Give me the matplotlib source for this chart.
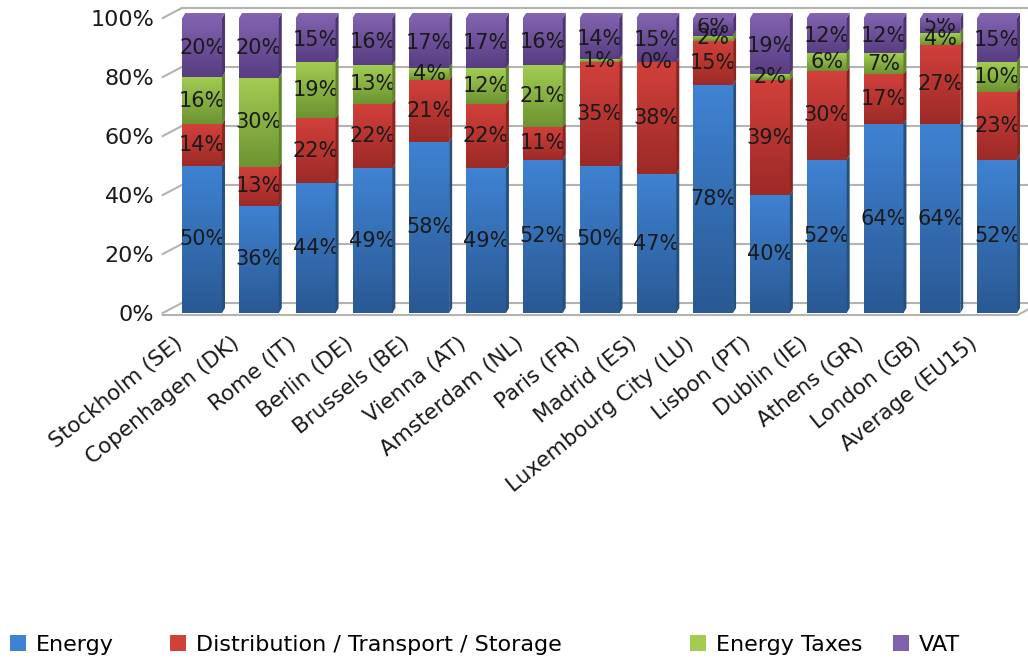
import matplotlib
matplotlib.use("Agg")
import matplotlib.pyplot as plt
from matplotlib.colors import LinearSegmentedColormap
from matplotlib.lines import Line2D
from matplotlib.patches import Polygon, Rectangle
from matplotlib.transforms import IdentityTransform, ScaledTranslation
import numpy as np

plt.rcParams.update({"font.family": "DejaVu Sans"})

cities = ["Stockholm (SE)", "Copenhagen (DK)", "Rome (IT)", "Berlin (DE)", "Brussels (BE)",
          "Vienna (AT)", "Amsterdam (NL)", "Paris (FR)", "Madrid (ES)", "Luxembourg City (LU)",
          "Lisbon (PT)", "Dublin (IE)", "Athens (GR)", "London (GB)", "Average (EU15)"]
energy = [50, 36, 44, 49, 58, 49, 52, 50, 47, 78, 40, 52, 64, 64, 52]
distribution = [14, 13, 22, 22, 21, 22, 11, 35, 38, 15, 39, 30, 17, 27, 23]
energy_taxes = [16, 30, 19, 13, 4, 12, 21, 1, 0, 2, 2, 6, 7, 4, 10]
vat = [20, 20, 15, 16, 17, 17, 16, 14, 15, 6, 19, 12, 12, 5, 15]
series_names = ["Energy", "Distribution / Transport / Storage", "Energy Taxes", "VAT"]
yticks = [0, 20, 40, 60, 80, 100]

# (bottom, top, side face) colours per series
PALETTE = [("#2a5994", "#3f82d2", "#26507f"),
           ("#9c2a27", "#d2403b", "#8a2522"),
           ("#6c9432", "#a2cc52", "#5f842b"),
           ("#583d82", "#8061ae", "#4d3572")]
GRID = "#b3b3b3"
INK = "#1a1a1a"

fig = plt.figure(figsize=(10.28, 6.59), dpi=100)
ax = fig.add_axes([0.169, 0.525, 0.8286, 0.4476])
ax.patch.set_visible(False)
for s in ax.spines.values():
    s.set_visible(False)
ax.set_xlim(-0.5, len(cities) - 0.5)
ax.set_ylim(0, 100)

ident = IdentityTransform()


def disp(x, y):
    return ax.transData.transform((x, y))


# back wall grid and floor edge (pixel offsets give the 3D depth)
DX, DY = 19, 10
x_front = disp(-0.5, 0)[0] - 11
for v in yticks:
    yf = disp(0, v)[1]
    fig.add_artist(Line2D([x_front, x_front + DX], [yf, yf + DY], transform=ident,
                          color=GRID, lw=1.5, zorder=-1))
    fig.add_artist(Line2D([x_front + DX, 1028], [yf + DY, yf + DY], transform=ident,
                          color=GRID, lw=1.5, zorder=-1))
y0 = disp(0, 0)[1] - 2
x_end = disp(len(cities) - 0.5, 0)[0] - 8
fig.add_artist(Line2D([x_front, x_end, x_end + DX], [y0, y0, y0 + DY], transform=ident,
                      color=GRID, lw=1.5, zorder=-1))

data = np.array([energy, distribution, energy_taxes, vat], dtype=float)
totals = data.sum(axis=0)
shares = data / totals * 100
x = np.arange(len(cities))
bottom = np.zeros(len(cities))
grad = np.linspace(0, 1, 64).reshape(-1, 1)
sdx, sdy = 3, 5

for i, name in enumerate(series_names):
    lo, hi, side = PALETTE[i]
    cmap = LinearSegmentedColormap.from_list(f"g{i}", [lo, hi])
    bars = ax.bar(x, shares[i], bottom=bottom, width=0.7, color=hi, edgecolor="none",
                  zorder=2, label=name)
    for j, b in enumerate(bars):
        x0, x1 = b.get_x(), b.get_x() + b.get_width()
        b0, b1 = bottom[j], bottom[j] + shares[i][j]
        if shares[i][j] > 0:
            im = ax.imshow(grad, cmap=cmap, origin="lower", aspect="auto",
                           extent=(x0, x1, b0, b1), zorder=2)
            im.set_clip_path(b)
            (px0, py0), (px1, py1) = disp(x1, b0), disp(x1, b1)
            fig.add_artist(Polygon([(px0, py0), (px0 + sdx, py0 + sdy), (px1 + sdx, py1 + sdy),
                                    (px1, py1)], closed=True, transform=ident, fc=side,
                                   ec="none", zorder=1))
            if i == len(series_names) - 1:
                (tx0, ty), (tx1, _) = disp(x0, b1), disp(x1, b1)
                fig.add_artist(Polygon([(tx0, ty), (tx0 + sdx, ty + sdy), (tx1 + sdx, ty + sdy),
                                        (tx1, ty)], closed=True, transform=ident, fc=hi,
                                       ec="none", zorder=1))
        ax.text(x[j], b0 + shares[i][j] / 2, f"{int(data[i][j])}%", ha="center", va="center",
                fontsize=15, color=INK, zorder=5)
    bottom = bottom + shares[i]

ax.set_xlim(-0.5, len(cities) - 0.5)
ax.set_ylim(0, 100)
ax.set_yticks(yticks)
ax.set_yticklabels([f"{v}%" for v in yticks], fontsize=16, color=INK)
ax.set_xticks(x)
ax.set_xticklabels(cities, rotation=39, ha="right", va="center", rotation_mode="anchor",
                   fontsize=15.5, color=INK)
ax.tick_params(length=0)
ax.tick_params(axis="y", pad=14)
ax.tick_params(axis="x", pad=20)
shift = ScaledTranslation(-0.22, 0, fig.dpi_scale_trans)
for lbl in ax.get_xticklabels():
    lbl.set_transform(lbl.get_transform() + shift)

# legend entries sit at fixed spots along the bottom edge
legend_x = [10, 170, 690, 893]
for i, name in enumerate(series_names):
    h = Rectangle((0, 0), 1, 1, fc=PALETTE[i][1], ec="none")
    fig.legend([h], [name], loc="center left", bbox_to_anchor=(legend_x[i] / 1028, 14 / 659),
               frameon=False, fontsize=16, handlelength=0.7, handleheight=0.7,
               handletextpad=0.45, borderpad=0, borderaxespad=0)

fig.savefig("out.png", dpi=100)
